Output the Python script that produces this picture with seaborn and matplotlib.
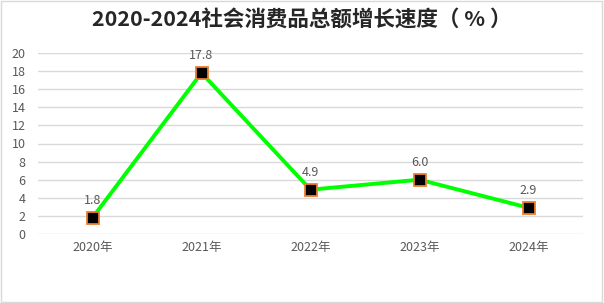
import matplotlib
matplotlib.use("Agg")
import matplotlib.pyplot as plt
import seaborn as sns
import pandas as pd
from matplotlib.patches import Rectangle

years = ["2020年", "2021年", "2022年", "2023年", "2024年"]
growth = [1.8, 17.8, 4.9, 6.0, 2.9]
yticks = [0, 2, 4, 6, 8, 10, 12, 14, 16, 18, 20]
title = "2020-2024社会消费品总额增长速度（ % ）"

sns.set_theme(style="white")
plt.rcParams['font.family'] = ['Noto Sans CJK SC', 'DejaVu Sans']

df = pd.DataFrame({"year": years, "growth": growth})

fig = plt.figure(figsize=(6.04, 3.03), dpi=100)
ax = fig.add_axes([38/604, 1-234/303, (583-38)/604, (234-53)/303])

sns.lineplot(data=df, x="year", y="growth", ax=ax, color="#00FF00", linewidth=2.8,
             marker="s", markersize=8, markerfacecolor="black",
             markeredgecolor="#ED7D31", markeredgewidth=1.3, sort=False)

ax.set_xlim(-0.5, len(years) - 0.5)
ax.set_ylim(0, 20)
ax.set_yticks(yticks)
ax.set_yticklabels([str(t) for t in yticks])
ax.grid(axis="y", color="#D9D9D9", linewidth=1)
ax.set_axisbelow(True)
for s in ax.spines.values():
    s.set_visible(False)
ax.set_xlabel("")
ax.set_ylabel("")
ax.tick_params(axis="both", colors="#595959", labelsize=9, length=0, pad=5)
ax.tick_params(axis="y", pad=9)

for i, v in enumerate(growth):
    ax.annotate(f"{v:.1f}", (i, v), xytext=(0, 8), textcoords="offset points",
                ha="center", va="bottom", fontsize=9, color="#595959")

fig.text(0.5, 1-20/303, title, ha="center", va="center", fontsize=15.5,
         fontweight="bold", color="#262626")

fig.patches.append(Rectangle((0.002, 0.003), 0.995, 0.993, transform=fig.transFigure,
                             fill=False, edgecolor="#D9D9D9", linewidth=1))

fig.savefig("out.png", dpi=100)
